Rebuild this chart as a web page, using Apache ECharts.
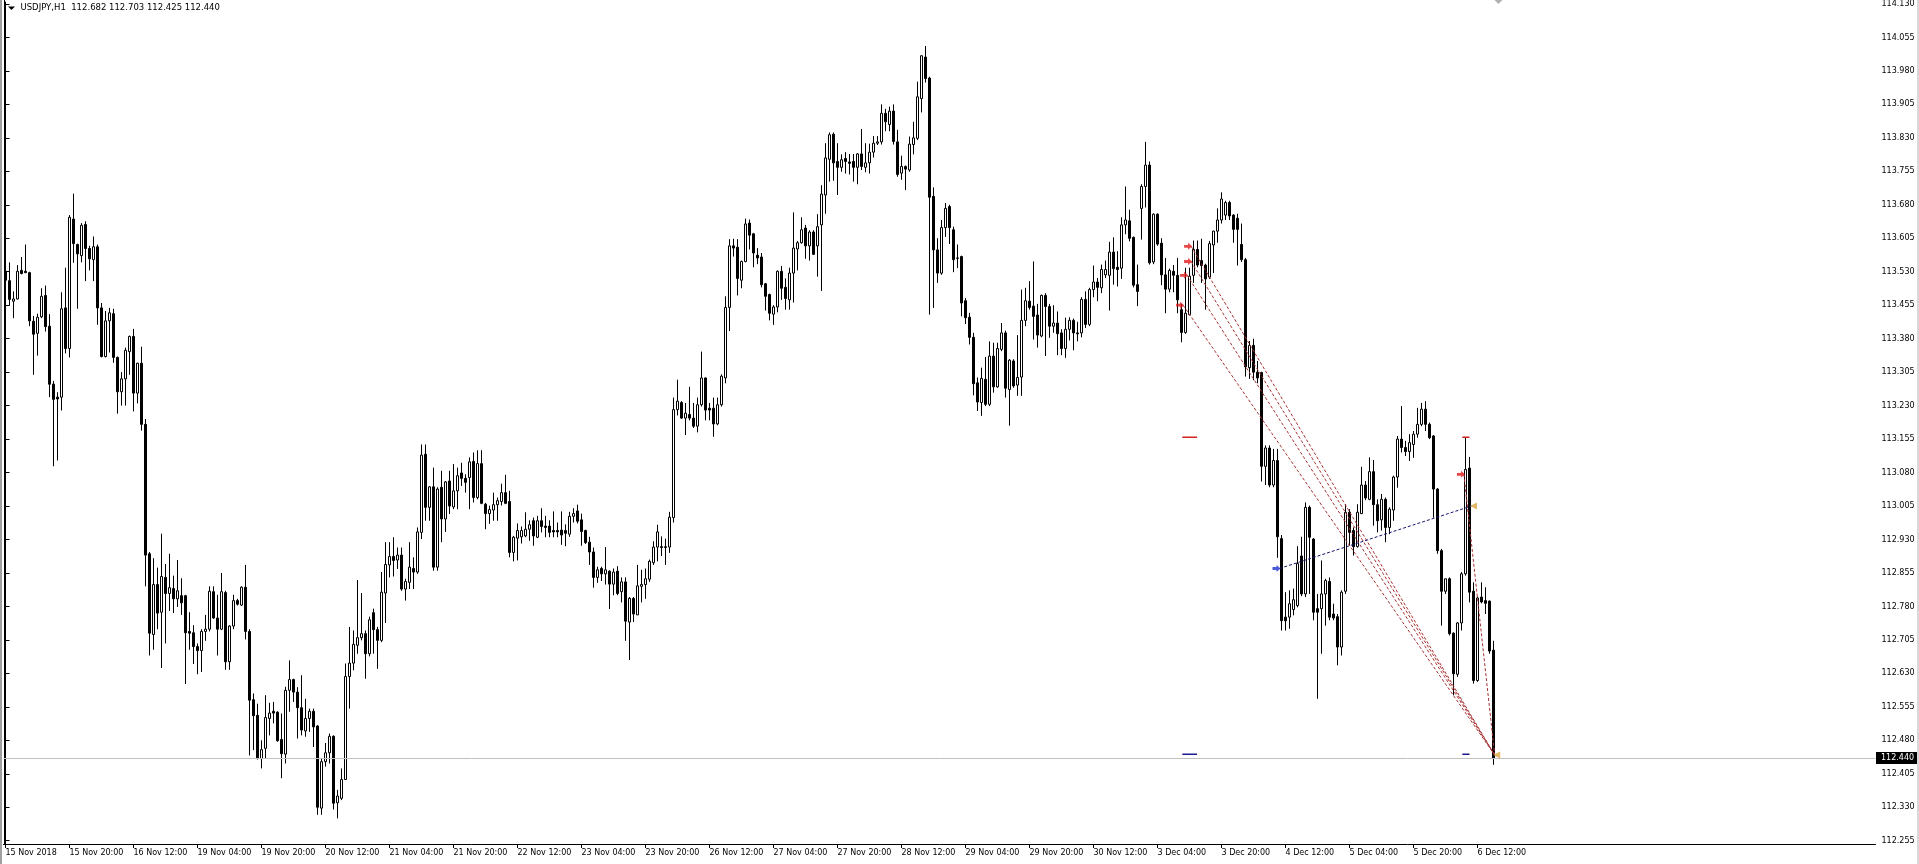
<!DOCTYPE html>
<html>
<head>
<meta charset="utf-8">
<title>USDJPY,H1</title>
<script src="https://cdn.jsdelivr.net/npm/echarts@6/dist/echarts.min.js"></script>
<style>
html, body { margin: 0; padding: 0; background: #fff; }
#chart { width: 1919px; height: 864px; }
</style>
</head>
<body>
<div id="chart"></div>
<script>
// bottom time labels, one every 16 hourly bars
const timeLabels = ['15 Nov 2018', '15 Nov 20:00', '16 Nov 12:00', '19 Nov 04:00', '19 Nov 20:00',
  '20 Nov 12:00', '21 Nov 04:00', '21 Nov 20:00', '22 Nov 12:00', '23 Nov 04:00', '23 Nov 20:00',
  '26 Nov 12:00', '27 Nov 04:00', '27 Nov 20:00', '28 Nov 12:00', '29 Nov 04:00', '29 Nov 20:00',
  '30 Nov 12:00', '3 Dec 04:00', '3 Dec 20:00', '4 Dec 12:00', '5 Dec 04:00', '5 Dec 20:00', '6 Dec 12:00'];
const labelStep = 16;
const slotCount = 468; // bar slots incl. empty chart-shift space on the right

// right price scale
const priceTicks = [112.255, 112.330, 112.405, 112.480, 112.555, 112.630, 112.705, 112.780, 112.855,
  112.930, 113.005, 113.080, 113.155, 113.230, 113.305, 113.380, 113.455, 113.530, 113.605, 113.680,
  113.755, 113.830, 113.905, 113.980, 114.055, 114.130];
const priceMin = 112.2476;
const priceMax = 114.1344;

const header = 'USDJPY,H1  112.682 112.703 112.425 112.440';
const lastPrice = 112.440;

// H1 bars [open, high, low, close]
const week15Nov = [
  [113.531,113.572,113.454,113.511],[113.510,113.551,113.454,113.468],[113.464,113.486,113.426,113.469],
  [113.469,113.545,113.468,113.531],[113.533,113.563,113.524,113.526],[113.531,113.591,113.527,113.528],
  [113.528,113.530,113.408,113.420],[113.419,113.431,113.299,113.390],[113.392,113.436,113.342,113.428],
  [113.429,113.493,113.426,113.475],[113.477,113.499,113.396,113.407],[113.408,113.435,113.249,113.278],
  [113.278,113.285,113.094,113.244],[113.249,113.260,113.107,113.245],[113.249,113.484,113.219,113.447],
  [113.449,113.539,113.347,113.358],[113.358,113.657,113.338,113.652],[113.648,113.705,113.550,113.593],
  [113.591,113.593,113.447,113.570],[113.566,113.639,113.551,113.634],[113.636,113.643,113.509,113.582],
  [113.582,113.588,113.533,113.559],[113.557,113.609,113.509,113.586],[113.586,113.591,113.411,113.449],
  [113.449,113.460,113.338,113.340],[113.340,113.442,113.338,113.420],[113.420,113.449,113.349,113.438],
  [113.436,113.447,113.326,113.338],[113.338,113.340,113.212,113.261],[113.261,113.305,113.230,113.290],
  [113.290,113.360,113.230,113.354],[113.351,113.387,113.299,113.385],[113.385,113.402,113.217,113.258],
  [113.258,113.326,113.235,113.325],[113.325,113.362,113.174,113.188],[113.188,113.200,112.825,112.895],
  [112.898,112.902,112.670,112.720],[112.717,112.888,112.683,112.829],[112.829,112.867,112.729,112.765],
  [112.767,112.943,112.642,112.847],[112.845,112.875,112.697,112.809],[112.809,112.898,112.770,112.822],
  [112.820,112.849,112.765,112.797],[112.797,112.884,112.779,112.815]
];
const week19Nov = [
  [112.804,112.843,112.761,112.788],[112.804,112.806,112.606,112.721],[112.724,112.767,112.683,112.720],
  [112.721,112.738,112.651,112.690],[112.690,112.697,112.628,112.681],[112.681,112.729,112.633,112.724],
  [112.724,112.761,112.703,112.729],[112.729,112.825,112.724,112.814],[112.813,112.825,112.752,112.754],
  [112.754,112.806,112.670,112.729],[112.729,112.855,112.727,112.813],[112.811,112.815,112.638,112.656],
  [112.656,112.738,112.638,112.736],[112.736,112.806,112.729,112.793],[112.793,112.797,112.782,112.785],
  [112.783,112.825,112.781,112.823],[112.823,112.873,112.706,112.724],[112.724,112.729,112.446,112.570],
  [112.571,112.585,112.458,112.535],[112.536,112.562,112.437,112.439],[112.439,112.480,112.417,112.459],
  [112.462,112.581,112.439,112.531],[112.529,112.564,112.491,112.541],[112.545,112.566,112.518,112.541],
  [112.543,112.545,112.477,112.479],[112.482,112.540,112.395,112.450],[112.449,112.600,112.428,112.592],
  [112.592,112.659,112.544,112.616],[112.616,112.618,112.566,112.588],[112.588,112.599,112.484,112.553],
  [112.553,112.626,112.491,112.503],[112.501,112.573,112.488,112.529],[112.529,112.551,112.499,112.545],
  [112.545,112.551,112.465,112.510],[112.512,112.514,112.313,112.330],[112.328,112.439,112.313,112.432],
  [112.432,112.474,112.421,112.452],[112.452,112.495,112.428,112.489],[112.489,112.491,112.325,112.339],
  [112.340,112.369,112.305,112.355],[112.350,112.417,112.346,112.392],[112.392,112.652,112.391,112.623],
  [112.623,112.734,112.551,112.653],[112.653,112.726,112.637,112.695],[112.693,112.839,112.674,112.710],
  [112.710,112.810,112.704,112.719],[112.719,112.726,112.618,112.674],[112.674,112.757,112.668,112.750],
  [112.766,112.775,112.674,112.728],[112.728,112.734,112.640,112.704],[112.704,112.857,112.700,112.812],
  [112.810,112.924,112.743,112.874],[112.873,112.924,112.845,112.892],[112.892,112.935,112.847,112.883],
  [112.884,112.912,112.864,112.895],[112.895,112.912,112.815,112.819],[112.819,112.842,112.793,112.836],
  [112.834,112.924,112.819,112.868],[112.865,112.890,112.819,112.857],[112.857,112.957,112.853,112.947],
  [112.946,113.143,112.931,113.119],[113.121,113.143,112.972,113.002],[113.002,113.050,112.972,113.048],
  [113.048,113.091,112.860,112.868],[112.868,113.047,112.860,113.043],[113.047,113.084,112.924,112.976],
  [112.976,113.061,112.947,113.059],[113.061,113.084,112.987,113.005],[113.003,113.099,112.998,113.039],
  [113.039,113.091,112.998,113.073],[113.079,113.102,113.050,113.067],[113.067,113.076,113.035,113.058],
  [113.069,113.114,112.998,113.104],[113.105,113.125,113.013,113.024],[113.024,113.130,113.020,113.100],
  [113.100,113.130,113.009,113.011],[113.009,113.012,112.953,112.988],[112.988,113.006,112.965,112.997],
  [112.996,113.035,112.972,113.008],[113.008,113.024,112.972,113.017],[113.015,113.055,113.006,113.035],
  [113.035,113.075,113.009,113.011],[113.015,113.039,112.890,112.901],[112.901,112.938,112.881,112.935],
  [112.933,112.966,112.883,112.950],[112.936,112.959,112.921,112.950],[112.938,112.991,112.935,112.953],
  [112.953,112.973,112.927,112.963],[112.972,112.979,112.916,112.938],[112.935,112.983,112.933,112.972],
  [112.972,113.000,112.946,112.959],[112.960,112.983,112.935,112.957],[112.960,112.973,112.935,112.946],
  [112.950,112.993,112.935,112.947],[112.950,112.968,112.935,112.947],[112.951,112.993,112.918,112.940],
  [112.950,112.964,112.915,112.944],[112.942,112.992,112.936,112.982],[112.982,113.000,112.968,112.988],
  [112.994,113.008,112.966,112.971],[112.974,112.988,112.916,112.948],[112.950,112.952,112.920,112.923],
  [112.924,112.936,112.873,112.902],[112.902,112.912,112.822,112.845],[112.845,112.869,112.833,112.862],
  [112.865,112.869,112.837,112.853],[112.853,112.913,112.829,112.862],[112.859,112.861,112.774,112.830],
  [112.830,112.865,112.805,112.857],[112.859,112.870,112.805,112.809],[112.813,112.845,112.789,112.835],
  [112.835,112.845,112.703,112.747],[112.745,112.801,112.660,112.798],[112.798,112.801,112.745,112.763],
  [112.761,112.873,112.761,112.826],[112.825,112.862,112.789,112.829],[112.829,112.865,112.797,112.842],
  [112.841,112.885,112.835,112.881],[112.878,112.926,112.873,112.913],[112.913,112.963,112.881,112.947]
];
const week26Nov = [
  [112.914,112.937,112.893,112.912],[112.912,112.932,112.873,112.914],[112.913,112.992,112.900,112.980],
  [112.979,113.248,112.968,113.221],[113.221,113.288,113.208,113.240],[113.237,113.240,113.200,113.202],
  [113.202,113.236,113.164,113.213],[113.210,113.272,113.197,113.202],[113.202,113.236,113.180,113.184],
  [113.184,113.248,113.170,113.232],[113.232,113.351,113.228,113.292],[113.292,113.293,113.197,113.220],
  [113.224,113.236,113.197,113.220],[113.224,113.248,113.160,113.189],[113.189,113.248,113.186,113.232],
  [113.232,113.300,113.228,113.296],[113.292,113.475,113.280,113.450],[113.450,113.603,113.397,113.588],
  [113.588,113.604,113.564,113.583],[113.585,113.603,113.477,113.515],[113.511,113.555,113.493,113.553],
  [113.553,113.649,113.551,113.637],[113.639,113.647,113.580,113.612],[113.615,113.617,113.540,113.572],
  [113.567,113.583,113.547,113.561],[113.563,113.572,113.495,113.501],[113.503,113.505,113.443,113.475],
  [113.479,113.481,113.421,113.437],[113.435,113.455,113.411,113.451],[113.451,113.533,113.439,113.531],
  [113.531,113.543,113.467,113.493],[113.495,113.515,113.445,113.470],[113.467,113.539,113.445,113.527],
  [113.527,113.663,113.461,113.583],[113.581,113.599,113.533,113.595],[113.595,113.652,113.593,113.624],
  [113.628,113.635,113.559,113.588],[113.588,113.623,113.555,113.619],[113.619,113.623,113.568,113.569],
  [113.588,113.659,113.519,113.631],[113.635,113.724,113.487,113.704],[113.702,113.818,113.660,113.785],
  [113.782,113.842,113.732,113.837],[113.838,113.842,113.734,113.774],[113.777,113.818,113.702,113.764],
  [113.764,113.793,113.754,113.781],[113.784,113.798,113.750,113.777],[113.776,113.794,113.748,113.773],
  [113.777,113.794,113.732,113.764],[113.764,113.796,113.726,113.794],[113.794,113.850,113.758,113.766],
  [113.764,113.818,113.753,113.774],[113.774,113.817,113.750,113.798],[113.798,113.834,113.786,113.818],
  [113.818,113.834,113.814,113.821],[113.821,113.905,113.815,113.885],[113.885,113.895,113.845,113.866],
  [113.860,113.900,113.845,113.890],[113.890,113.905,113.815,113.822],[113.821,113.848,113.743,113.748],
  [113.751,113.790,113.736,113.766],[113.766,113.768,113.713,113.760],[113.758,113.833,113.754,113.816],
  [113.815,113.866,113.793,113.830],[113.829,113.956,113.825,113.922],[113.918,114.015,113.887,114.014],
  [114.011,114.036,113.954,113.963],[113.964,113.967,113.434,113.697],[113.699,113.719,113.449,113.579],
  [113.579,113.605,113.505,113.527],[113.527,113.646,113.523,113.629],[113.629,113.684,113.608,113.672],
  [113.676,113.680,113.592,113.629],[113.624,113.631,113.529,113.557],[113.561,113.591,113.538,113.560],
  [113.564,113.566,113.430,113.460],[113.465,113.471,113.413,113.427],[113.428,113.438,113.367,113.383],
  [113.383,113.393,113.253,113.279],[113.281,113.293,113.218,113.238],[113.237,113.315,113.207,113.291],
  [113.289,113.339,113.229,113.233],[113.233,113.374,113.229,113.341],[113.341,113.371,113.259,113.272],
  [113.272,113.371,113.270,113.358],[113.356,113.415,113.352,113.393],[113.393,113.398,113.248,113.269],
  [113.266,113.334,113.185,113.332],[113.330,113.334,113.270,113.274],[113.276,113.388,113.252,113.293],
  [113.294,113.490,113.252,113.421],[113.421,113.494,113.408,113.465],[113.464,113.509,113.445,113.450],
  [113.453,113.553,113.378,113.430],[113.433,113.458,113.360,113.388],[113.386,113.479,113.383,113.477],
  [113.477,113.482,113.341,113.452],[113.452,113.458,113.382,113.408],[113.408,113.455,113.393,113.415],
  [113.415,113.441,113.343,113.391],[113.393,113.401,113.343,113.358],[113.358,113.427,113.337,113.401],
  [113.401,113.428,113.376,113.421],[113.421,113.425,113.354,113.393],[113.393,113.418,113.374,113.391],
  [113.393,113.473,113.383,113.468],[113.468,113.486,113.404,113.412],[113.412,113.494,113.408,113.490],
  [113.490,113.544,113.473,113.507],[113.507,113.516,113.464,113.495],[113.494,113.546,113.482,113.535],
  [113.523,113.555,113.516,113.535],[113.522,113.597,113.443,113.574],[113.574,113.607,113.501,113.537],
  [113.540,113.576,113.497,113.535],[113.538,113.652,113.514,113.635],[113.635,113.721,113.614,113.646],
  [113.644,113.669,113.598,113.605],[113.607,113.609,113.495,113.500],[113.501,113.546,113.453,113.486]
];
const week3Dec = [
  [113.672,113.726,113.602,113.721],[113.721,113.821,113.674,113.769],[113.769,113.777,113.546,113.550],
  [113.552,113.661,113.547,113.659],[113.659,113.661,113.588,113.592],[113.594,113.605,113.500,113.523],
  [113.523,113.561,113.437,113.491],[113.491,113.537,113.484,113.533],[113.531,113.545,113.484,113.522],
  [113.522,113.561,113.437,113.467],[113.445,113.458,113.372,113.394],[113.394,113.539,113.391,113.437],
  [113.434,113.539,113.432,113.520],[113.522,113.600,113.505,113.580],[113.580,113.600,113.540,113.545],
  [113.555,113.604,113.505,113.544],[113.545,113.548,113.445,113.514],[113.518,113.599,113.514,113.593],
  [113.590,113.622,113.527,113.621],[113.621,113.672,113.595,113.646],[113.646,113.708,113.638,113.693],
  [113.657,113.689,113.646,113.685],[113.685,113.689,113.646,113.655],[113.657,113.659,113.595,113.625],
  [113.650,113.660,113.544,113.625],[113.591,113.638,113.552,113.557],[113.557,113.561,113.295,113.317],
  [113.315,113.375,113.290,113.365],[113.365,113.380,113.287,113.305],[113.305,113.330,113.280,113.292],
  [113.304,113.306,113.060,113.094],[113.094,113.141,113.052,113.135],[113.135,113.141,113.047,113.052],
  [113.052,113.133,113.047,113.107],[113.107,113.133,112.889,112.936],[112.932,112.940,112.726,112.748],
  [112.756,112.812,112.726,112.748],[112.756,112.816,112.730,112.786],[112.773,112.820,112.760,112.795],
  [112.782,112.915,112.778,112.876],[112.893,112.936,112.803,112.808],[112.808,113.013,112.801,113.002],
  [113.002,113.006,112.808,112.935],[112.931,112.933,112.749,112.767],[112.775,112.808,112.573,112.767],
  [112.775,112.883,112.674,112.808],[112.808,112.842,112.737,112.838],[112.836,112.845,112.749,112.756],
  [112.763,112.786,112.749,112.754],[112.757,112.763,112.648,112.689],[112.689,112.816,112.670,112.812],
  [112.814,113.009,112.808,112.991],[112.991,112.998,112.916,112.946],[112.950,112.957,112.894,112.914],
  [112.914,113.009,112.912,112.991],[112.988,113.093,112.987,113.052],[113.052,113.061,113.018,113.023],
  [113.020,113.114,113.018,113.082],[113.082,113.108,112.961,113.008],[113.008,113.020,112.946,112.972],
  [112.974,113.032,112.950,113.020],[113.020,113.024,112.924,112.957],[112.957,113.002,112.942,112.998],
  [112.996,113.073,112.972,113.070],[113.070,113.162,113.046,113.155],[113.155,113.229,113.125,113.136],
  [113.136,113.151,113.117,113.127],[113.127,113.166,113.106,113.147],[113.143,113.173,113.113,113.166],
  [113.166,113.225,113.158,113.188],[113.188,113.236,113.184,113.222],[113.222,113.240,113.173,113.188],
  [113.188,113.192,113.155,113.158],[113.162,113.164,112.979,113.043],[113.043,113.045,112.898,112.905],
  [112.905,112.909,112.737,112.814],[112.814,112.842,112.808,112.842],[112.842,112.845,112.715,112.719],
  [112.720,112.722,112.581,112.629],[112.628,112.745,112.622,112.743],[112.743,112.857,112.726,112.853],
  [112.853,113.158,112.849,113.087],[113.090,113.115,112.789,112.812],[112.814,112.834,112.607,112.614],
  [112.614,112.802,112.611,112.799],[112.801,112.834,112.787,112.790],[112.793,112.823,112.763,112.787],
  [112.792,112.793,112.674,112.680],[112.682,112.703,112.425,112.440]
];

// trades, as [bar index, price]
const sellEntries = [[294.4, 113.455], [295.4, 113.522], [296.4, 113.553], [296.4, 113.587], [364.6, 113.076]];
const sellExit = [372.3, 112.447];
const buyEntry = [318.5, 112.865];
const buyExit = [366.5, 113.005];
// short stop / target marks: [from bar, to bar, price]
const stopMarks = [[294.2, 297.9, 113.159], [364.2, 366.0, 113.159]];
const targetMarks = [[294.2, 297.9, 112.449], [364.2, 366.0, 112.449]];

const FONT = 'DejaVu Sans';
const bars = week15Nov.concat(week19Nov, week26Nov, week3Dec);
const candleData = bars.map(b => [b[0], b[3], b[2], b[1]]);
const cats = [];
for (let i = 0; i < slotCount; i++) cats.push('b' + i);
const isLabel = idx => idx % labelStep === 0 && idx / labelStep < timeLabels.length;

function segs(list, color, dashed, width) {
  return list.map(d => ({
    type: 'line', xAxisIndex: 1, yAxisIndex: 0, data: d,
    symbol: 'none', silent: true, z: 5,
    lineStyle: { color: color, width: width || 1, type: dashed ? [3, 2] : 'solid' }
  }));
}

const redTrades = sellEntries.map(p => [p, sellExit]);
const blueTrades = [[buyEntry, buyExit]];
const stopSegs = stopMarks.map(m => [[m[0], m[2]], [m[1], m[2]]]);
const targetSegs = targetMarks.map(m => [[m[0], m[2]], [m[1], m[2]]]);

const arrowPath = 'path://M0,3 L5,3 L5,0 L10,5 L5,10 L5,7 L0,7 Z';

const chart = echarts.init(document.getElementById('chart'));
const option = {
  animation: false,
  backgroundColor: '#fff',
  grid: { left: 3.5, right: 43.5, top: 0, height: 844 },
  xAxis: [{
    type: 'category', data: cats, boundaryGap: true,
    axisLine: { show: true, lineStyle: { color: '#000', width: 1 } },
    axisTick: { show: true, alignWithLabel: true, length: 4, interval: isLabel, lineStyle: { color: '#000' } },
    axisLabel: {
      interval: isLabel, formatter: (v, idx) => timeLabels[idx / labelStep],
      align: 'left', margin: 5, padding: [0, 0, 0, 0],
      color: '#000', fontFamily: FONT, fontSize: 8
    },
    splitLine: { show: false }
  }, {
    type: 'value', min: -0.5, max: slotCount - 0.5, show: false
  }],
  yAxis: [{
    type: 'value', position: 'right', min: priceMin, max: priceMax, scale: true,
    axisLine: { show: true, lineStyle: { color: '#000', width: 1 } },
    axisTick: { show: true, length: 4, customValues: priceTicks, lineStyle: { color: '#000' } },
    axisLabel: {
      customValues: priceTicks, formatter: v => v.toFixed(3),
      margin: 6, color: '#000', fontFamily: FONT, fontSize: 8
    },
    splitLine: { show: false }
  }],
  series: [{
    type: 'candlestick', data: candleData, barWidth: 2,
    itemStyle: { color: '#fff', color0: '#000', borderColor: '#000', borderColor0: '#000', borderWidth: 1 },
    markLine: {
      silent: true, symbol: 'none', label: { show: false },
      lineStyle: { color: '#c0c0c0', type: 'solid', width: 1 },
      data: [{ yAxis: lastPrice }]
    }
  }].concat(
    segs(redTrades, '#a83232', true),
    segs(blueTrades, '#141470', true),
    segs(stopSegs, '#d02424', false, 1.5),
    segs(targetSegs, '#1c1c90', false, 1.5),
    [{
      type: 'scatter', xAxisIndex: 1, data: sellEntries, symbol: arrowPath, symbolSize: [8, 7],
      symbolOffset: [-3, 0], itemStyle: { color: '#e01818' }, silent: true, z: 6
    }, {
      type: 'scatter', xAxisIndex: 1, data: [buyEntry], symbol: arrowPath, symbolSize: [8, 7],
      symbolOffset: [-3, 0], itemStyle: { color: '#1f2fd0' }, silent: true, z: 6
    }, {
      type: 'scatter', xAxisIndex: 1, data: [sellExit, buyExit], symbol: 'triangle', symbolSize: 7,
      symbolRotate: 90, symbolOffset: [2, 0], itemStyle: { color: '#d9a441' }, silent: true, z: 6
    }]
  )
};
chart.setOption(option);

// price tag on the axis and the terminal-style frame bits
const yLast = chart.convertToPixel({ yAxisIndex: 0 }, lastPrice);
chart.setOption({
  graphic: { elements: [
    { type: 'rect', shape: { x: 0, y: 0, width: 2, height: 864 }, style: { fill: '#a0a0a0' }, silent: true },
    { type: 'line', shape: { x1: 4.5, y1: 0, x2: 4.5, y2: 844 }, style: { stroke: '#000', lineWidth: 1 }, silent: true },
    { type: 'rect', shape: { x: 1917, y: 0, width: 2, height: 864 }, style: { fill: '#d8d8d8' }, silent: true },
    { type: 'polygon', shape: { points: [[8, 6.5], [15, 6.5], [11.5, 10]] }, style: { fill: '#000' }, silent: true },
    { type: 'text', x: 20.5, y: 7.5, style: { text: header, fill: '#000', font: '8.5px "' + FONT + '"', verticalAlign: 'middle' }, silent: true },
    { type: 'polygon', shape: { points: [[1494.5, 0], [1502.5, 0], [1498.5, 4]] }, style: { fill: '#b0b0b0' }, silent: true },
    { type: 'rect', shape: { x: 1876, y: Math.round(yLast) - 6, width: 41, height: 12 }, style: { fill: '#000' }, z: 10, silent: true },
    { type: 'text', x: 1881, y: Math.round(yLast), style: { text: lastPrice.toFixed(3), fill: '#fff', font: '8px "' + FONT + '"', verticalAlign: 'middle' }, z: 11, silent: true }
  ] }
});
</script>
</body>
</html>
